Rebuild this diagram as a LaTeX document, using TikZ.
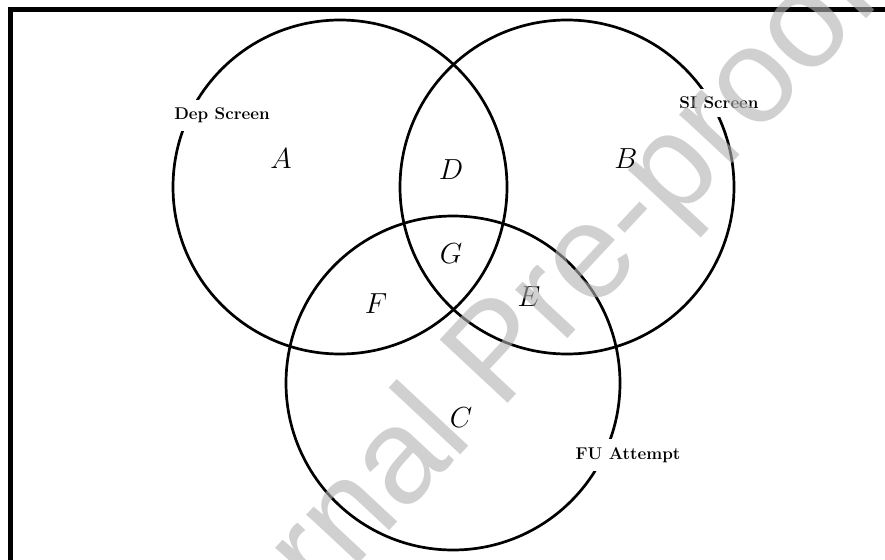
\RequirePackage{fix-cm}
\documentclass[tikz,border=0pt]{standalone}
\usepackage{fontspec}
\newfontfamily\wmfont{Liberation Sans}
\tikzset{
  venn/.style={draw=black, circle, line width=2.7pt, minimum size=334pt, inner sep=0pt},
  setlabel/.style={fill=white, inner sep=8pt, anchor=base, font=\fontsize{17}{20}\selectfont\bfseries},
  region/.style={inner sep=0pt, anchor=base, font=\fontsize{29}{30}\selectfont},
  frameline/.style={line width=5pt},
  watermark/.style={anchor=base west, rotate=47, inner sep=0pt, text=black!30, text opacity=0.6, font=\fontsize{135}{135}\selectfont\wmfont}
}
\begin{document}
\begin{tikzpicture}[x=1pt,y=-1pt]
\useasboundingbox (0,0) rectangle (885,559);
\begin{scope}
\clip (0,0) rectangle (885,559);
\fill[white] (0,0) rectangle (885,559);
\coordinate (fTL) at (10,9.7);
\coordinate (fBR) at (1000,700);
\draw[frameline] (fTL) rectangle (fBR);
\node[venn] (cA) at (340,187) {};
\node[venn] (cB) at (567,187) {};
\node[venn] (cC) at (453,383) {};
\node[setlabel] (lA) at (222,119.5) {Dep Screen};
\node[setlabel] (lB) at (719,108.5) {SI Screen};
\node[setlabel] (lC) at (628,459.3) {FU Attempt};
\node[region] (rA) at (281,168) {$A$};
\node[region] (rB) at (626,168) {$B$};
\node[region] (rD) at (451,179) {$D$};
\node[region] (rG) at (451,263) {$G$};
\node[region] (rF) at (376,313) {$F$};
\node[region] (rE) at (529,306) {$E$};
\node[region] (rC) at (461,427) {$C$};
\node[watermark] (wm) at (173,763) {Journal Pre-proof};
\end{scope}
\end{tikzpicture}
\end{document}
